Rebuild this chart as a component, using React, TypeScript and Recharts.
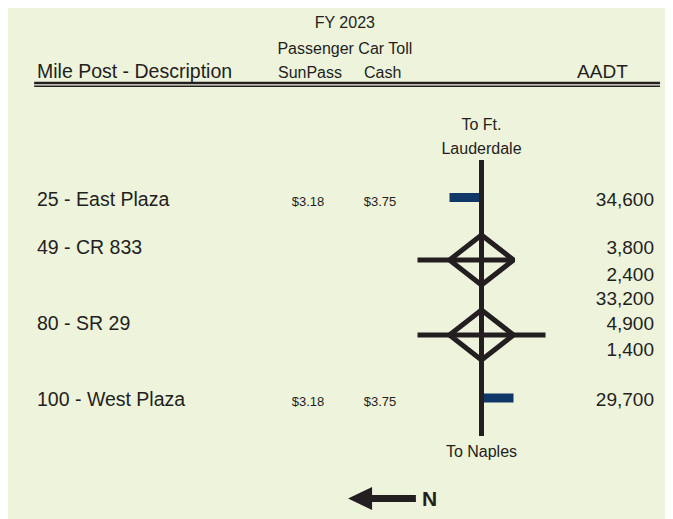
import React from 'react';
import {
  ComposedChart,
  XAxis,
  YAxis,
  Scatter,
  ReferenceLine,
  ReferenceArea,
} from 'recharts';

// toll road rows
const milePosts = [25, 49, 80, 100];
const descriptions = ['East Plaza', 'CR 833', 'SR 29', 'West Plaza'];
const rowSlots = [0, 1.92, 4.96, 8];
const sunPassTolls = ['$3.18', '', '', '$3.18'];
const cashTolls = ['$3.75', '', '', '$3.75'];

// AADT column (values stack at interchanges)
const aadtValues = [34600, 3800, 2400, 33200, 4900, 1400, 29700];
const aadtSlots = [0, 1.92, 2.99, 3.96, 4.96, 5.99, 8];

// interchanges (diamonds) and their cross roads
const interchangeSlots = [2.16, 5.16];
const crossRoadLeft = [-2, -2];
const crossRoadRight = [1, 2];

// toll plazas: bar slot and which side of the road
const plazaSlots = [-0.34, 7.68];
const plazaSides = [-1, 1];

// road extent
const roadStart = -1.84;
const roadEnd = 9.2;

// layout
const W = 665;
const H = 511;
const X_UNIT = 32;
const Y_UNIT = 25;
const ROAD_PX = 473.5;
const BASE_PX = 198;
const X_DOMAIN: [number, number] = [-ROAD_PX / X_UNIT, (W - ROAD_PX) / X_UNIT];
const Y_DOMAIN: [number, number] = [-BASE_PX / Y_UNIT, (H - BASE_PX) / Y_UNIT];

const INK = '#231f20';
const NAVY = '#0f3868';
const BG = '#eef3dc';
const FONT = '"Liberation Sans", Arial, sans-serif';

const DESC_X = -13.89;
const SUNPASS_X = -5.42;
const CASH_X = -3.17;
const AADT_X = 5.39;

const headerLabels = [
  { x: -4.27, y: -7.11, label: 'FY 2023', size: 16, anchor: 'middle' },
  { x: -4.27, y: -6.07, label: 'Passenger Car Toll', size: 16, anchor: 'middle' },
  { x: DESC_X, y: -5.14, label: 'Mile Post - Description', size: 19.5, anchor: 'start' },
  { x: -5.36, y: -5.14, label: 'SunPass', size: 16, anchor: 'middle' },
  { x: -3.09, y: -5.14, label: 'Cash', size: 16, anchor: 'middle' },
  { x: 3.78, y: -5.14, label: 'AADT', size: 19, anchor: 'middle' },
  { x: 0, y: -3.04, label: 'To Ft.', size: 16, anchor: 'middle' },
  { x: 0, y: -2.08, label: 'Lauderdale', size: 16, anchor: 'middle' },
  { x: 0, y: 10.03, label: 'To Naples', size: 16, anchor: 'middle' },
  { x: -1.86, y: 12.0, label: 'N', size: 21, anchor: 'start', weight: 700 },
];

const makeText = (size: number, anchor: string, weight = 400) => (p: any) => (
  <text
    x={p.cx}
    y={p.cy}
    fontSize={p.payload.size ?? size}
    fontWeight={p.payload.weight ?? weight}
    textAnchor={p.payload.anchor ?? anchor}
    fontFamily={FONT}
    fill={INK}
  >
    {p.payload.label}
  </text>
);

const ArrowHead = (p: any) => (
  <polygon
    points={`${p.cx},${p.cy} ${p.cx + 24},${p.cy - 11.5} ${p.cx + 24},${p.cy + 11.5}`}
    fill={INK}
  />
);

const noDot = () => <g />;

export default function App() {
  const descData = milePosts.map((mp, i) => ({
    x: DESC_X,
    y: rowSlots[i],
    label: `${mp} - ${descriptions[i]}`,
  }));
  const sunData = sunPassTolls
    .map((t, i) => ({ x: SUNPASS_X, y: rowSlots[i], label: t }))
    .filter((d) => d.label);
  const cashData = cashTolls
    .map((t, i) => ({ x: CASH_X, y: rowSlots[i], label: t }))
    .filter((d) => d.label);
  const aadtData = aadtValues.map((v, i) => ({
    x: AADT_X,
    y: aadtSlots[i],
    label: v.toLocaleString('en-US'),
  }));

  return (
    <div style={{ width: W, height: H, background: BG }}>
      <ComposedChart width={W} height={H} margin={{ top: 0, right: 0, bottom: 0, left: 0 }}>
        <XAxis type="number" dataKey="x" domain={X_DOMAIN} hide allowDataOverflow />
        <YAxis type="number" dataKey="y" domain={Y_DOMAIN} hide reversed allowDataOverflow />

        {/* header double rule */}
        <ReferenceLine segment={[{ x: -13.98, y: -4.92 }, { x: 5.58, y: -4.92 }]} stroke={INK} strokeWidth={2.5} />
        <ReferenceLine segment={[{ x: -13.98, y: -4.79 }, { x: 5.58, y: -4.79 }]} stroke={INK} strokeWidth={1.5} />

        {/* toll plazas */}
        {plazaSlots.map((s, i) => (
          <ReferenceArea
            key={`plaza-${i}`}
            x1={Math.min(0, plazaSides[i])}
            x2={Math.max(0, plazaSides[i])}
            y1={s - 0.18}
            y2={s + 0.18}
            fill={NAVY}
            fillOpacity={1}
            stroke="none"
          />
        ))}

        {/* cross roads */}
        {interchangeSlots.map((s, i) => (
          <ReferenceLine
            key={`cross-${i}`}
            segment={[{ x: crossRoadLeft[i], y: s }, { x: crossRoadRight[i], y: s }]}
            stroke={INK}
            strokeWidth={5}
          />
        ))}

        {/* main road */}
        <ReferenceLine segment={[{ x: 0, y: roadStart }, { x: 0, y: roadEnd }]} stroke={INK} strokeWidth={5} />

        {/* diamond interchanges */}
        {interchangeSlots.map((s, i) => (
          <Scatter
            key={`diamond-${i}`}
            data={[
              { x: 0, y: s - 1 },
              { x: 1, y: s },
              { x: 0, y: s + 1 },
              { x: -1, y: s },
              { x: 0, y: s - 1 },
              { x: 1, y: s },
            ]}
            line={{ stroke: INK, strokeWidth: 5, strokeLinejoin: 'bevel' }}
            shape={noDot}
            isAnimationActive={false}
          />
        ))}

        {/* north arrow */}
        <ReferenceLine segment={[{ x: -3.5, y: 11.7 }, { x: -2.05, y: 11.7 }]} stroke={INK} strokeWidth={7} />
        <Scatter data={[{ x: -4.17, y: 11.7 }]} shape={ArrowHead} isAnimationActive={false} />

        <Scatter data={headerLabels} shape={makeText(16, 'middle')} isAnimationActive={false} />
        <Scatter data={descData} shape={makeText(19.5, 'start')} isAnimationActive={false} />
        <Scatter data={sunData} shape={makeText(13, 'middle')} isAnimationActive={false} />
        <Scatter data={cashData} shape={makeText(13, 'middle')} isAnimationActive={false} />
        <Scatter data={aadtData} shape={makeText(19, 'end')} isAnimationActive={false} />
      </ComposedChart>
    </div>
  );
}
